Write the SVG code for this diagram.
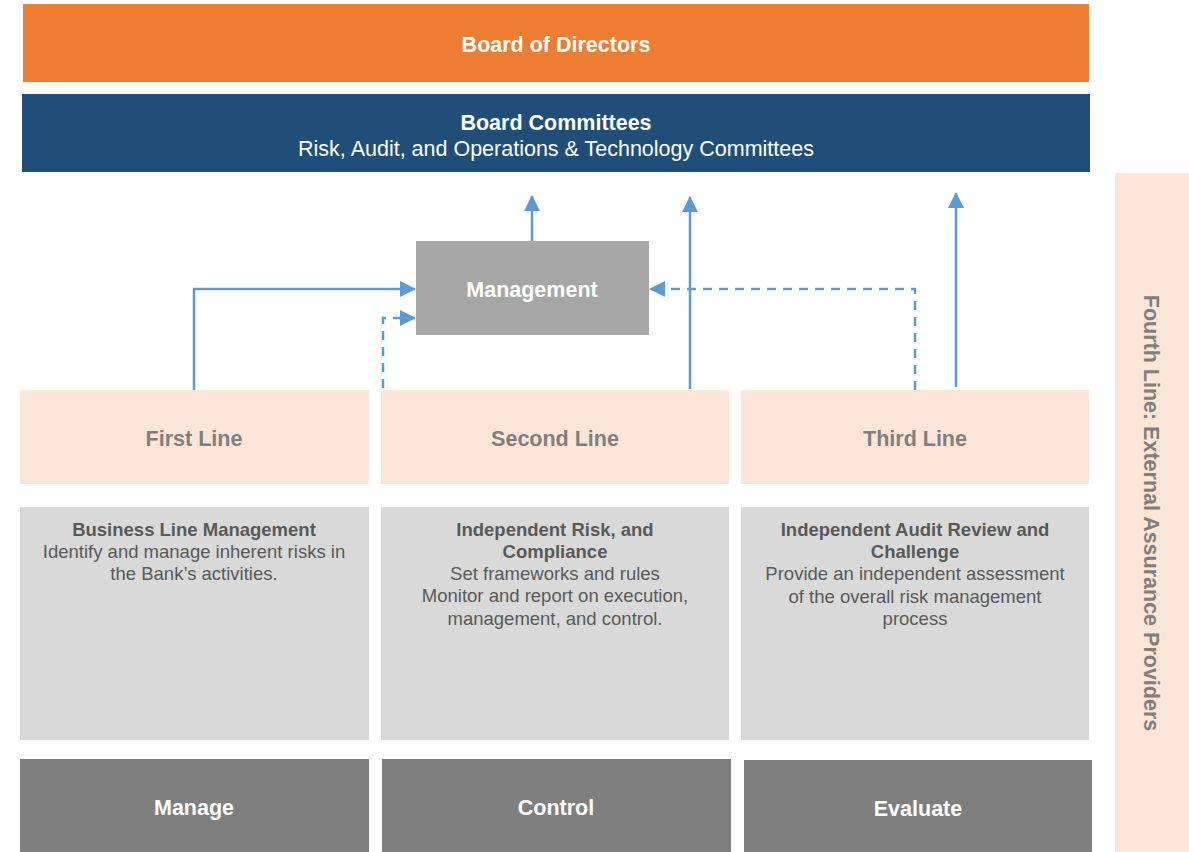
<svg xmlns="http://www.w3.org/2000/svg" width="1189" height="852" viewBox="0 0 1189 852">
<defs>
<style>
text{font-family:"Liberation Sans",Arial,sans-serif;text-anchor:middle}
.w{fill:#fff}
.b{font-weight:bold}
.line{fill:#FBE5D6}
.lt{fill:#7F7F7F;font-size:21.5px;font-weight:bold}
.desc{fill:#D9D9D9}
.dt{fill:#595959;font-size:18.5px}
.act{fill:#7F7F7F}
.c{fill:none;stroke:#5B9BD5;stroke-width:2.5}
.d{stroke-dasharray:9 7}
</style>
<marker id="a" viewBox="0 0 16 16" refX="15" refY="8" markerWidth="16" markerHeight="16" markerUnits="userSpaceOnUse" orient="auto">
<path d="M0,0 L16,8 L0,16 z" fill="#5B9BD5"/>
</marker>
</defs>
<g id="board">
<rect x="23" y="4" width="1066" height="78" fill="#ED7D31"/>
<text x="556" y="51.5" class="w b" font-size="21.5">Board of Directors</text>
</g>
<g id="committees">
<rect x="22" y="94" width="1068" height="78" fill="#1F4E79"/>
<text x="556" y="130" class="w b" font-size="21.5">Board Committees</text>
<text x="556" y="156" class="w" font-size="21.5">Risk, Audit, and Operations &amp; Technology Committees</text>
</g>
<g id="fourth-line">
<rect x="1115" y="173" width="74" height="679" class="line"/>
<text transform="translate(1152,513) rotate(90)" y="7.7" class="lt">Fourth Line: External Assurance Providers</text>
</g>
<g id="management">
<rect x="416" y="241" width="233" height="94" fill="#A6A6A6"/>
<text x="532" y="296.5" class="w b" font-size="21.5">Management</text>
</g>
<g id="first-line">
<rect x="20" y="390" width="349" height="94" class="line"/>
<text x="194" y="446" class="lt">First Line</text>
</g>
<g id="second-line">
<rect x="381" y="390" width="348" height="94" class="line"/>
<text x="555" y="446" class="lt">Second Line</text>
</g>
<g id="third-line">
<rect x="741" y="390" width="348" height="94" class="line"/>
<text x="915" y="446" class="lt">Third Line</text>
</g>
<g id="first-desc">
<rect x="20" y="507" width="349" height="233" class="desc"/>
<text x="194" y="535.5" class="dt b">Business Line Management</text>
<text x="194" y="557.5" class="dt">Identify and manage inherent risks in</text>
<text x="194" y="579.5" class="dt">the Bank’s activities.</text>
</g>
<g id="second-desc">
<rect x="381" y="507" width="348" height="233" class="desc"/>
<text x="555" y="535.5" class="dt b">Independent Risk, and</text>
<text x="555" y="557.5" class="dt b">Compliance</text>
<text x="555" y="579.5" class="dt">Set frameworks and rules</text>
<text x="555" y="601.5" class="dt">Monitor and report on execution,</text>
<text x="555" y="624.5" class="dt">management, and control.</text>
</g>
<g id="third-desc">
<rect x="741" y="507" width="348" height="233" class="desc"/>
<text x="915" y="535.5" class="dt b">Independent Audit Review and</text>
<text x="915" y="557.5" class="dt b">Challenge</text>
<text x="915" y="579.5" class="dt">Provide an independent assessment</text>
<text x="915" y="602.5" class="dt">of the overall risk management</text>
<text x="915" y="624.5" class="dt">process</text>
</g>
<g id="manage">
<rect x="20" y="759" width="349" height="93" class="act"/>
<text x="194" y="815" class="w b" font-size="21.5">Manage</text>
</g>
<g id="control">
<rect x="382" y="759" width="349" height="93" class="act"/>
<text x="556" y="815" class="w b" font-size="21.5">Control</text>
</g>
<g id="evaluate">
<rect x="744" y="760" width="348" height="92" class="act"/>
<text x="918" y="816" class="w b" font-size="21.5">Evaluate</text>
</g>
<g id="connectors">
<path class="c" d="M532,241 V196" marker-end="url(#a)"/>
<path class="c" d="M690,389 V197" marker-end="url(#a)"/>
<path class="c" d="M956,387 V193" marker-end="url(#a)"/>
<path class="c" d="M194,390 V289 H415" marker-end="url(#a)"/>
<path class="c d" d="M383,388 V318 H415" marker-end="url(#a)"/>
<path class="c d" d="M915,390 V289 H650" marker-end="url(#a)"/>
</g>
</svg>
